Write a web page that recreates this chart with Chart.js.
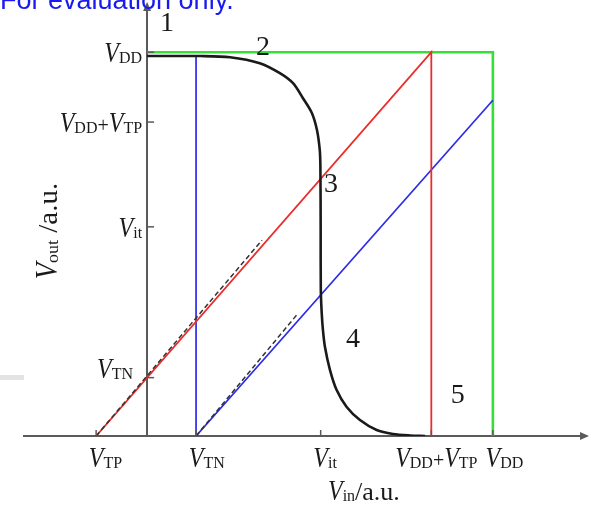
<!DOCTYPE html>
<html>
<head>
<meta charset="utf-8">
<script src="https://cdn.jsdelivr.net/npm/chart.js@4.4.1/dist/chart.umd.min.js"></script>
<style>
  html, body { margin: 0; padding: 0; background: #ffffff; }
  #wrap { width: 593px; height: 511px; position: relative; }
</style>
</head>
<body>
<div id="wrap"><canvas id="c" width="593" height="511"></canvas></div>
<script>
// Axis ticks (arbitrary units) and their symbolic labels
const xTickValues = [-0.737, 0.708, 2.51, 4.11, 5.0];
const xTickLabels = ['V_TP', 'V_TN', 'V_it', 'V_DD+V_TP', 'V_DD'];
const yTickValues = [0.76, 2.725, 4.09, 5.0];
const yTickLabels = ['V_TN', 'V_it', 'V_DD+V_TP', 'V_DD'];

// Inverter transfer characteristic V_out(V_in)
const curveVin  = [0, 0.77, 1.2, 1.63, 1.92, 2.11, 2.254, 2.384, 2.457, 2.497, 2.506, 2.510, 2.512, 2.525, 2.543, 2.572, 2.645, 2.741, 2.886, 3.078, 3.319, 3.555, 3.801, 4.02];
const curveVout = [4.95, 4.95, 4.935, 4.857, 4.727, 4.596, 4.401, 4.206, 3.984, 3.724, 3.503, 2.682, 1.901, 1.602, 1.380, 1.159, 0.859, 0.599, 0.378, 0.208, 0.078, 0.026, 0.0065, 0];

// Region boundaries
const greenVin  = [0, 5.0, 5.0];
const greenVout = [5.0, 5.0, 0];
const redVin    = [-0.737, 4.11, 4.11];
const redVout   = [0, 5.0, 0];
const blueVin   = [0.708, 0.708, 5.0];
const blueVout  = [4.95, 0, 4.375];

// Dashed saturation approximations
const redDashVin   = [-0.737, 1.662];
const redDashVout  = [0, 2.552];
const blueDashVin  = [0.708, 2.163];
const blueDashVout = [0, 1.576];

// Operating region numbers
const regionLabels = ['1', '2', '3', '4', '5'];
const regionVin    = [0.289, 1.676, 2.659, 2.977, 4.494];
const regionVout   = [5.38, 5.078, 3.294, 1.263, 0.534];

const xTitle = 'V_in/a.u.';
const yTitle = 'V_out /a.u.';
const noteText = 'For evaluation only.';

const toPts = (xs, ys) => xs.map((x, i) => ({ x: x, y: ys[i] }));

const SERIF = '"Liberation Serif", "DejaVu Serif", serif';
const AXIS_COLOR = '#5a5a5a';
const TEXT_COLOR = '#1a1a1a';

// Split "V_DD+V_TP" into styled pieces
function tokenize(label) {
  const out = [];
  const re = /V_([A-Za-z]+)|([^V]+)/g;
  let m;
  while ((m = re.exec(label)) !== null) {
    if (m[1]) { out.push({ kind: 'V', t: 'V' }); out.push({ kind: 'sub', t: m[1] }); }
    else out.push({ kind: 'plain', t: m[2] });
  }
  return out;
}

function styleOf(kind, plainSize) {
  if (kind === 'V') return { font: 'italic 30px ' + SERIF, sx: 0.8, dy: 0 };
  if (kind === 'sub') return { font: '16px ' + SERIF, sx: 1, dy: 1 };
  return { font: plainSize + 'px ' + SERIF, sx: 1, dy: 0 };
}

function measureLabel(ctx, tokens, plainSize) {
  let w = 0; const parts = [];
  tokens.forEach(tk => {
    const st = styleOf(tk.kind, plainSize);
    ctx.font = st.font;
    const tw = ctx.measureText(tk.t).width * st.sx;
    parts.push({ tk, st, w: tw });
    w += tw;
  });
  return { w, parts };
}

function drawLabel(ctx, parts, x, y) {
  let cx = x;
  parts.forEach(p => {
    ctx.save();
    ctx.font = p.st.font;
    ctx.translate(cx, y + p.st.dy);
    ctx.scale(p.st.sx, 1);
    ctx.textAlign = 'left';
    ctx.textBaseline = 'alphabetic';
    ctx.fillText(p.tk.t, 0, 0);
    ctx.restore();
    cx += p.w;
  });
}

const decorPlugin = {
  id: 'decor',
  beforeDraw(chart) {
    const ctx = chart.ctx;
    ctx.save();
    ctx.fillStyle = '#ffffff';
    ctx.fillRect(0, 0, chart.width, chart.height);
    ctx.fillStyle = '#e3e3e3';
    ctx.fillRect(0, 375, 24, 5);
    ctx.restore();
  },
  afterDraw(chart) {
    const ctx = chart.ctx;
    const xs = chart.scales.x, ys = chart.scales.y;
    const area = chart.chartArea;
    const x0 = xs.getPixelForValue(0);
    const y0 = ys.getPixelForValue(0);
    ctx.save();

    // arrowheads
    ctx.fillStyle = AXIS_COLOR;
    ctx.beginPath();
    ctx.moveTo(x0, area.top - 8);
    ctx.lineTo(x0 - 4, area.top + 1);
    ctx.lineTo(x0 + 4, area.top + 1);
    ctx.closePath(); ctx.fill();
    ctx.beginPath();
    ctx.moveTo(area.right + 9, y0);
    ctx.lineTo(area.right, y0 - 4);
    ctx.lineTo(area.right, y0 + 4);
    ctx.closePath(); ctx.fill();

    // inward tick marks
    ctx.strokeStyle = AXIS_COLOR; ctx.lineWidth = 1.5;
    xTickValues.forEach(v => {
      const px = xs.getPixelForValue(v);
      ctx.beginPath(); ctx.moveTo(px, y0); ctx.lineTo(px, y0 - 6); ctx.stroke();
    });
    yTickValues.forEach(v => {
      const py = ys.getPixelForValue(v);
      ctx.beginPath(); ctx.moveTo(x0, py); ctx.lineTo(x0 + 7, py); ctx.stroke();
    });

    ctx.fillStyle = TEXT_COLOR;
    // x tick labels: the italic V sits on the tick, compound labels are centred
    xTickLabels.forEach((lab, i) => {
      const px = xs.getPixelForValue(xTickValues[i]);
      const toks = tokenize(lab);
      const m = measureLabel(ctx, toks, 20);
      let start;
      if (lab.indexOf('+') >= 0) start = px + 5 - m.w / 2;
      else start = px - m.parts[0].w / 2;
      drawLabel(ctx, m.parts, start, y0 + 31);
    });
    // y tick labels, right aligned against the axis
    const nudge = { 'V_TN': [-9, -10] };
    yTickLabels.forEach((lab, i) => {
      const py = ys.getPixelForValue(yTickValues[i]);
      const m = measureLabel(ctx, tokenize(lab), 20);
      const n = nudge[lab] || [0, 0];
      drawLabel(ctx, m.parts, x0 - 5 - m.w + n[0], py + 10 + n[1]);
    });

    // axis titles
    const mx = measureLabel(ctx, tokenize(xTitle), 26);
    drawLabel(ctx, mx.parts, 328, 500);
    const my = measureLabel(ctx, tokenize(yTitle), 26);
    ctx.save();
    ctx.translate(57, 231);
    ctx.rotate(-Math.PI / 2);
    ctx.scale(1.12, 1.08);
    drawLabel(ctx, my.parts, -my.w / 2, 0);
    ctx.restore();

    // region numbers
    ctx.font = '28px ' + SERIF;
    ctx.textAlign = 'center';
    ctx.textBaseline = 'middle';
    regionLabels.forEach((t, i) => {
      ctx.fillText(t, xs.getPixelForValue(regionVin[i]), ys.getPixelForValue(regionVout[i]) + 1);
    });

    // header note
    ctx.font = '27px "Liberation Sans", Arial, sans-serif';
    ctx.fillStyle = '#1a1aee';
    ctx.textAlign = 'left';
    ctx.textBaseline = 'alphabetic';
    ctx.fillText(noteText, 0, 9);
    ctx.restore();
  }
};

const line = (pts, color, width, extra) => Object.assign({
  data: pts, showLine: true, borderColor: color, borderWidth: width,
  pointRadius: 0, fill: false, tension: 0
}, extra || {});

new Chart(document.getElementById('c'), {
  type: 'scatter',
  data: {
    datasets: [
      line(toPts(curveVin, curveVout), '#1a1a1a', 2.6, { tension: 0.3 }),
      line(toPts(redDashVin, redDashVout), '#333333', 1.5, { borderDash: [5, 3] }),
      line(toPts(blueDashVin, blueDashVout), '#333333', 1.5, { borderDash: [5, 3] }),
      line(toPts(redVin, redVout), '#ec2b2b', 1.8),
      line(toPts(blueVin, blueVout), '#2b2bea', 1.7),
      line(toPts(greenVin, greenVout), '#33e033', 2.6)
    ]
  },
  options: {
    responsive: false,
    animation: false,
    layout: { padding: { left: 24, right: 13, top: 10, bottom: 75 } },
    plugins: { legend: { display: false }, tooltip: { enabled: false } },
    scales: {
      x: {
        type: 'linear', min: -1.78, max: 6.26, position: 'bottom',
        grid: { display: false, drawTicks: false }, ticks: { display: false },
        border: { display: true, color: AXIS_COLOR, width: 2 }
      },
      y: {
        type: 'linear', min: 0, max: 5.55, position: { x: 0 },
        grid: { display: false, drawTicks: false }, ticks: { display: false },
        border: { display: true, color: AXIS_COLOR, width: 2 }
      }
    }
  },
  plugins: [decorPlugin]
});
</script>
</body>
</html>
